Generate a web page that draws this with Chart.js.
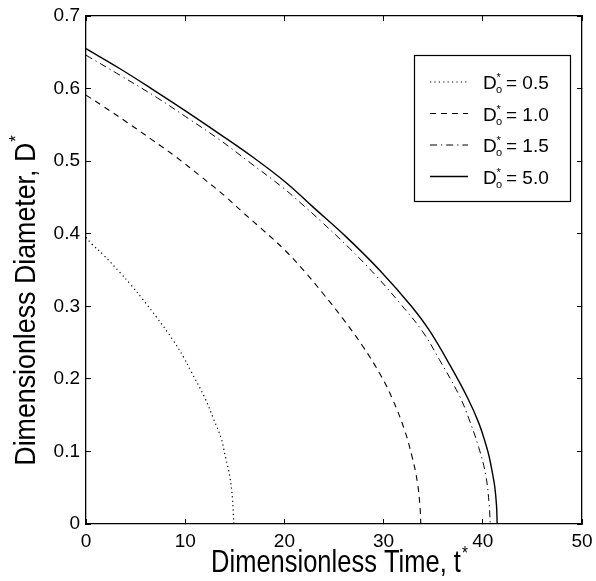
<!DOCTYPE html>
<html><head><meta charset="utf-8">
<script src="https://cdn.jsdelivr.net/npm/chart.js@4/dist/chart.umd.min.js"></script>
<style>html,body{margin:0;padding:0;background:#fff}canvas{display:block}</style>
</head><body>
<canvas id="c" width="596" height="581"></canvas>
<script>
// ---- data ----
const xTicks = [0, 10, 20, 30, 40, 50];
const yTicks = [0, 0.1, 0.2, 0.3, 0.4, 0.5, 0.6, 0.7];
const seriesLabels = ['0.5', '1.0', '1.5', '5.0'];

const t05 = [0, 0.57, 1.81, 3.39, 4.56, 5.7, 7.11, 8.79, 9.79, 10.6, 11.94, 12.85, 13.6, 14.08, 14.49, 14.76, 14.86, 14.9];
const d05 = [0.395, 0.386, 0.370, 0.347, 0.329, 0.310, 0.285, 0.253, 0.231, 0.210, 0.175, 0.145, 0.119, 0.091, 0.066, 0.036, 0.012, 0];

const t10 = [0, 1.68, 4.19, 6.7, 9.05, 11.57, 14.08, 15.76, 17.6, 20.0, 22.03, 23.87, 25.89, 27.9, 29.75, 30.9, 32.1, 32.9, 33.4, 33.67, 33.75];
const d10 = [0.591, 0.576, 0.553, 0.529, 0.506, 0.479, 0.451, 0.430, 0.408, 0.378, 0.348, 0.318, 0.283, 0.245, 0.204, 0.172, 0.130, 0.091, 0.058, 0.024, 0];

const t15 = [0, 3.35, 7.21, 10.4, 13.41, 16.43, 19.8, 21.5, 23.7, 26.56, 29.24, 31.6, 33.94, 35.6, 37.63, 38.6, 39.6, 40.3, 40.64, 40.75];
const d15 = [0.646, 0.619, 0.587, 0.558, 0.530, 0.499, 0.464, 0.444, 0.417, 0.380, 0.342, 0.305, 0.265, 0.227, 0.177, 0.145, 0.105, 0.067, 0.027, 0];

const t50 = [0, 3.35, 6.7, 10.06, 13.41, 16.77, 20.12, 22.87, 26.2, 29.58, 32.93, 34.6, 36.6, 38.46, 39.6, 40.3, 40.64, 41.0, 41.2, 41.38, 41.45];
const d50 = [0.655, 0.628, 0.599, 0.569, 0.538, 0.506, 0.471, 0.437, 0.396, 0.350, 0.298, 0.267, 0.221, 0.174, 0.139, 0.110, 0.093, 0.068, 0.052, 0.026, 0];

// ---- styling ----
const FONT = "'Liberation Sans', Arial, Helvetica, sans-serif";
const dashes = [[1.2, 3.2], [6, 5], [7, 4, 1.2, 4], []];
const widths = [1.2, 1.1, 1.0, 1.4];
const pts = (t, d) => t.map((x, i) => ({x: x, y: d[i]}));
const series = [pts(t05, d05), pts(t10, d10), pts(t15, d15), pts(t50, d50)];

const datasets = series.map((s, i) => ({
  label: 'D*o = ' + seriesLabels[i],
  data: s,
  showLine: true,
  borderColor: '#000',
  borderWidth: widths[i],
  borderDash: dashes[i],
  pointRadius: 0,
  tension: 0.4,
  fill: false
}));

const axisCommon = {
  border: {color: '#000', width: 1.3},
  grid: {drawOnChartArea: false, drawTicks: true, tickLength: -5, color: '#000', lineWidth: 1}
};

function supText(ctx, main, sup, x, y, size, align) {
  ctx.font = size + 'px ' + FONT;
  const w1 = ctx.measureText(main).width;
  ctx.font = Math.round(size * 0.6) + 'px ' + FONT;
  const w2 = ctx.measureText(sup).width;
  const total = w1 + w2;
  let x0 = align === 'center' ? x - total / 2 : x;
  ctx.textAlign = 'left';
  ctx.font = size + 'px ' + FONT;
  ctx.fillText(main, x0, y);
  ctx.font = Math.round(size * 0.6) + 'px ' + FONT;
  ctx.fillText(sup, x0 + w1 + 1, y - size * 0.42);
}

const overlay = {
  id: 'overlay',
  afterDraw(chart) {
    const ctx = chart.ctx;
    ctx.save();
    ctx.fillStyle = '#000';
    ctx.textBaseline = 'alphabetic';
    // x title
    ctx.save();
    ctx.translate(339, 572);
    ctx.scale(1.02, 1.28);
    supText(ctx, 'Dimensionless Time, t', '*', 0, 0, 25, 'center');
    ctx.restore();
    // y title
    ctx.save();
    ctx.translate(35, 301);
    ctx.rotate(-Math.PI / 2);
    ctx.scale(1.03, 1.15);
    supText(ctx, 'Dimensionless Diameter, D', '*', 0, 0, 26, 'center');
    ctx.restore();
    // legend box
    const bx = 414.5, by = 55.5, bw = 156, bh = 146;
    ctx.fillStyle = '#fff';
    ctx.fillRect(bx, by, bw, bh);
    ctx.strokeStyle = '#000';
    ctx.lineWidth = 1.2;
    ctx.setLineDash([]);
    ctx.strokeRect(bx, by, bw, bh);
    const rows = [82, 113.5, 145, 176.5];
    rows.forEach((ry, i) => {
      ctx.save();
      ctx.strokeStyle = '#000';
      ctx.lineWidth = widths[i];
      ctx.setLineDash(dashes[i]);
      ctx.beginPath();
      ctx.moveTo(430, ry);
      ctx.lineTo(468, ry);
      ctx.stroke();
      ctx.restore();
      ctx.fillStyle = '#000';
      ctx.textAlign = 'left';
      const base = ry + 7;
      ctx.font = '19px ' + FONT;
      ctx.fillText('D', 483, base);
      ctx.font = '11px ' + FONT;
      ctx.fillText('*', 496.5, base - 8);
      ctx.fillText('o', 496, base + 4);
      ctx.font = '19px ' + FONT;
      ctx.fillText('= ' + seriesLabels[i], 506, base);
    });
    ctx.restore();
  }
};

new Chart(document.getElementById('c'), {
  type: 'scatter',
  data: {datasets: datasets},
  options: {
    responsive: false,
    animation: false,
    devicePixelRatio: 1,
    layout: {padding: {top: 16, right: 14, left: 0, bottom: 0}},
    plugins: {legend: {display: false}, tooltip: {enabled: false}},
    scales: {
      x: Object.assign({}, axisCommon, {
        type: 'linear', position: 'bottom',
        min: xTicks[0], max: xTicks[xTicks.length - 1],
        afterBuildTicks: (s) => { s.ticks = xTicks.map(v => ({value: v})); },
        ticks: {color: '#000', font: {family: FONT, size: 19}, padding: 11, maxRotation: 0,
                callback: (v) => String(v)},
        afterFit: (s) => { s.height = 57; s.paddingLeft = 0; s.paddingRight = 0; }
      }),
      y: Object.assign({}, axisCommon, {
        type: 'linear', position: 'left',
        min: yTicks[0], max: yTicks[yTicks.length - 1],
        afterBuildTicks: (s) => { s.ticks = yTicks.map(v => ({value: v})); },
        ticks: {color: '#000', font: {family: FONT, size: 19}, padding: 11,
                callback: (v) => String(Math.round(v * 10) / 10)},
        afterFit: (s) => { s.width = 86; s.paddingTop = 0; s.paddingBottom = 0; }
      }),
      x2: Object.assign({}, axisCommon, {
        type: 'linear', position: 'top',
        min: xTicks[0], max: xTicks[xTicks.length - 1],
        afterBuildTicks: (s) => { s.ticks = xTicks.map(v => ({value: v})); },
        ticks: {display: false},
        afterFit: (s) => { s.height = 0; s.paddingLeft = 0; s.paddingRight = 0; }
      }),
      y2: Object.assign({}, axisCommon, {
        type: 'linear', position: 'right',
        min: yTicks[0], max: yTicks[yTicks.length - 1],
        afterBuildTicks: (s) => { s.ticks = yTicks.map(v => ({value: v})); },
        ticks: {display: false},
        afterFit: (s) => { s.width = 0; s.paddingTop = 0; s.paddingBottom = 0; }
      })
    }
  },
  plugins: [overlay]
});
</script>
</body></html>
